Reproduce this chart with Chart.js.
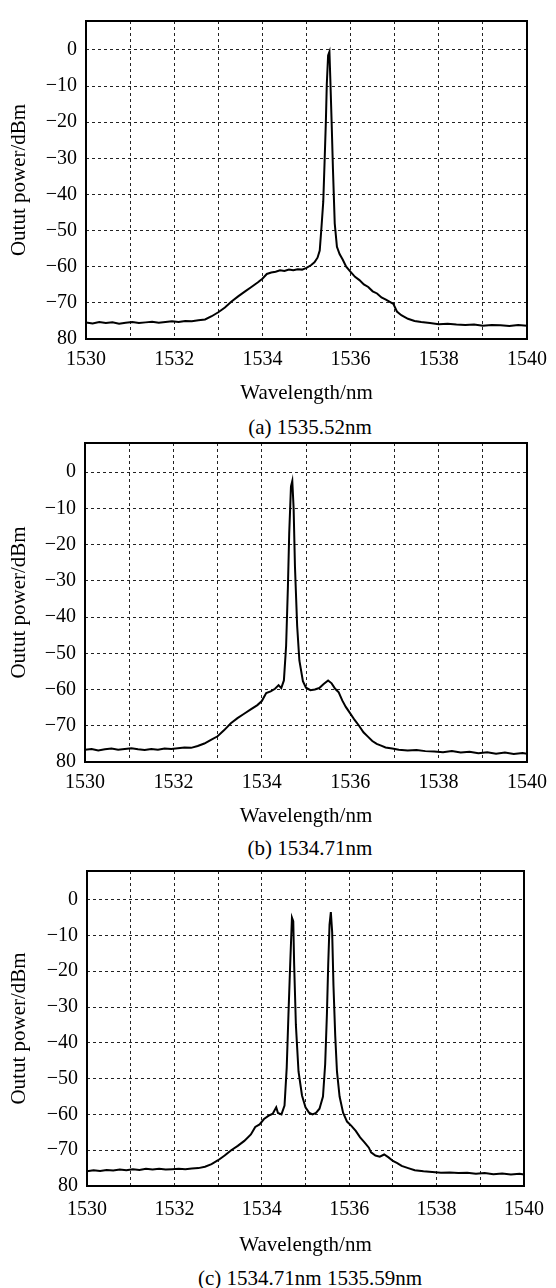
<!DOCTYPE html>
<html>
<head>
<meta charset="utf-8">
<script src="https://cdn.jsdelivr.net/npm/chart.js@4.4.1/dist/chart.umd.min.js"></script>
<style>
body { margin: 0; background: #fff; width: 556px; height: 1288px; position: relative; overflow: hidden;
       font-family: "Liberation Serif", "Times New Roman", serif; }
.box { position: absolute; left: 0; width: 556px; }
.cap { position: absolute; left: 0; width: 620px; text-align: center; font-size: 21px; line-height: 24px; color: #000; }
</style>
</head>
<body>
<div class="box" style="top:0;height:406px"><canvas id="chartA"></canvas></div>
<div class="cap" style="top:415px">(a) 1535.52nm</div>
<div class="box" style="top:420px;height:409px"><canvas id="chartB"></canvas></div>
<div class="cap" style="top:836px">(b) 1534.71nm</div>
<div class="box" style="top:850px;height:408px"><canvas id="chartC"></canvas></div>
<div class="cap" style="top:1266px">(c) 1534.71nm 1535.59nm</div>

<script>
// axis ticks
const xTickValues = [1530, 1531, 1532, 1533, 1534, 1535, 1536, 1537, 1538, 1539, 1540];
const xTickLabels = ['1530', '', '1532', '', '1534', '', '1536', '', '1538', '', '1540'];
const yTickValues = [-80, -70, -60, -50, -40, -30, -20, -10, 0];
const yTickLabels = ['80', '\u221270', '\u221260', '\u221250', '\u221240', '\u221230', '\u221220', '\u221210', '0'];

// (a) single line at 1535.52nm
const wlA = [1530.00, 1530.15, 1530.30, 1530.45, 1530.60, 1530.75, 1530.90, 1531.05, 1531.20, 1531.35,
    1531.50, 1531.65, 1531.80, 1531.95, 1532.10, 1532.25, 1532.40, 1532.55, 1532.70, 1532.85,
    1533.00, 1533.15, 1533.30, 1533.45, 1533.60, 1533.75, 1533.90, 1534.00, 1534.10, 1534.20,
    1534.30, 1534.40, 1534.50, 1534.60, 1534.70, 1534.80, 1534.90, 1535.00, 1535.10, 1535.18,
    1535.25, 1535.30, 1535.34, 1535.38, 1535.41, 1535.44, 1535.46, 1535.49, 1535.52, 1535.54,
    1535.57, 1535.60, 1535.64, 1535.69, 1535.75, 1535.82, 1535.90, 1536.00, 1536.10, 1536.20,
    1536.30, 1536.40, 1536.50, 1536.60, 1536.70, 1536.80, 1536.90, 1536.97, 1537.05, 1537.15,
    1537.30, 1537.45, 1537.60, 1537.80, 1538.00, 1538.20, 1538.40, 1538.60, 1538.80, 1539.00,
    1539.20, 1539.40, 1539.60, 1539.80, 1540.00];
const powerA = [-75.4, -75.7, -75.3, -75.6, -75.4, -75.8, -75.5, -75.3, -75.6, -75.4,
    -75.2, -75.5, -75.3, -75.1, -75.3, -75.0, -75.1, -74.8, -74.6, -73.7,
    -72.6, -71.3, -69.6, -68.2, -66.9, -65.6, -64.3, -63.3, -62.0, -61.6,
    -61.4, -61.0, -61.2, -60.8, -61.0, -60.7, -60.8, -60.3, -59.6, -58.8,
    -57.5, -55.5, -49.0, -42.0, -31.0, -19.5, -9.5, -1.5, -0.5, -8.0,
    -20.0, -33.0, -48.0, -54.5, -56.5, -58.0, -60.0, -61.4, -62.8, -63.7,
    -64.9, -65.6, -66.8, -67.4, -68.5, -69.1, -69.8, -70.3, -72.4, -73.4,
    -74.4, -75.0, -75.3, -75.6, -75.9, -75.8, -76.0, -76.1, -76.0, -76.3,
    -76.1, -76.2, -76.4, -76.1, -76.3];

// (b) single line at 1534.71nm
const wlB = [1530.00, 1530.15, 1530.30, 1530.45, 1530.60, 1530.75, 1530.90, 1531.05, 1531.20, 1531.35,
    1531.50, 1531.65, 1531.80, 1531.95, 1532.10, 1532.25, 1532.40, 1532.55, 1532.70, 1532.85,
    1533.00, 1533.15, 1533.30, 1533.45, 1533.60, 1533.75, 1533.90, 1534.00, 1534.10, 1534.20,
    1534.30, 1534.38, 1534.44, 1534.50, 1534.55, 1534.59, 1534.62, 1534.66, 1534.69, 1534.72,
    1534.75, 1534.80, 1534.85, 1534.93, 1535.00, 1535.10, 1535.20, 1535.30, 1535.40, 1535.50,
    1535.58, 1535.66, 1535.74, 1535.82, 1535.90, 1536.00, 1536.10, 1536.20, 1536.30, 1536.40,
    1536.50, 1536.60, 1536.70, 1536.80, 1536.95, 1537.10, 1537.30, 1537.50, 1537.70, 1537.90,
    1538.10, 1538.30, 1538.50, 1538.70, 1538.90, 1539.10, 1539.30, 1539.50, 1539.70, 1539.90,
    1540.00];
const powerB = [-76.6, -76.4, -76.8, -76.5, -76.3, -76.6, -76.4, -76.2, -76.5, -76.7,
    -76.4, -76.6, -76.3, -76.4, -76.2, -76.0, -76.1, -75.6, -74.9, -73.9,
    -72.9, -71.2, -69.3, -67.9, -66.7, -65.5, -64.3, -63.2, -61.0, -60.5,
    -59.8, -58.8, -59.6, -57.5, -48.0, -32.0, -17.0, -4.0, -2.5, -10.0,
    -26.0, -42.5, -52.0, -57.7, -59.5, -60.2, -60.0, -59.6, -58.5, -57.5,
    -58.3, -59.8, -60.8, -63.0, -64.8, -66.6, -68.4, -70.0, -71.8, -73.0,
    -74.2, -75.0, -75.5, -76.0, -76.3, -76.6, -76.8, -76.7, -77.0, -77.1,
    -77.3, -77.0, -77.4, -77.2, -77.6, -77.3, -77.7, -77.4, -77.8, -77.5,
    -77.7];

// (c) dual line at 1534.71nm and 1535.59nm
const wlC = [1530.00, 1530.15, 1530.30, 1530.45, 1530.60, 1530.75, 1530.90, 1531.05, 1531.20, 1531.35,
    1531.50, 1531.65, 1531.80, 1531.95, 1532.10, 1532.25, 1532.40, 1532.55, 1532.70, 1532.85,
    1533.00, 1533.15, 1533.30, 1533.45, 1533.60, 1533.75, 1533.85, 1533.95, 1534.05, 1534.15,
    1534.25, 1534.33, 1534.37, 1534.45, 1534.52, 1534.57, 1534.61, 1534.65, 1534.69, 1534.72,
    1534.74, 1534.78, 1534.84, 1534.92, 1535.00, 1535.08, 1535.16, 1535.24, 1535.32, 1535.40,
    1535.45, 1535.49, 1535.52, 1535.55, 1535.58, 1535.61, 1535.64, 1535.68, 1535.72, 1535.78,
    1535.86, 1535.95, 1536.05, 1536.15, 1536.25, 1536.35, 1536.45, 1536.50, 1536.60, 1536.70,
    1536.80, 1536.90, 1537.00, 1537.10, 1537.20, 1537.35, 1537.50, 1537.70, 1537.90, 1538.10,
    1538.30, 1538.50, 1538.70, 1538.90, 1539.10, 1539.30, 1539.50, 1539.70, 1539.90, 1540.00];
const powerC = [-75.9, -75.6, -75.8, -75.5, -75.7, -75.4, -75.6, -75.3, -75.5, -75.2,
    -75.4, -75.2, -75.4, -75.3, -75.2, -75.3, -75.1, -75.0, -74.6, -73.9,
    -72.8, -71.5, -70.0, -68.8, -67.4, -65.6, -63.5, -62.8, -61.3, -60.4,
    -59.8, -58.0, -59.6, -60.0, -57.5, -47.0, -32.0, -18.0, -5.0, -6.0,
    -18.0, -35.0, -48.0, -54.7, -58.0, -59.5, -60.0, -59.6, -58.4, -55.0,
    -46.0, -32.0, -18.0, -7.0, -3.5, -9.0, -24.0, -38.0, -48.0, -55.0,
    -59.5, -62.0, -63.2, -64.6, -66.4, -67.8, -69.3, -70.6, -71.5, -71.8,
    -71.2, -72.0, -73.0, -73.6, -74.4, -75.0, -75.6, -75.9, -76.1, -76.3,
    -76.2, -76.4, -76.3, -76.6, -76.4, -76.7, -76.5, -76.8, -76.6, -76.8];

const FONT = '"Liberation Serif", "Times New Roman", serif';

// solid frame round the plot area
const framePlugin = {
    id: 'frame',
    afterDatasetsDraw: function(chart) {
        const a = chart.chartArea;
        const ctx = chart.ctx;
        ctx.save();
        ctx.strokeStyle = '#000';
        ctx.lineWidth = 2;
        ctx.strokeRect(a.left, a.top, a.right - a.left, a.bottom - a.top);
        ctx.restore();
    }
};

function spectrumChart(id, wl, power, lay) {
    const points = wl.map(function(x, i) { return { x: x, y: power[i] }; });
    const gridOpts = { color: '#222', lineWidth: 1, drawTicks: false };
    return new Chart(document.getElementById(id), {
        type: 'line',
        data: {
            datasets: [{
                data: points,
                borderColor: '#000',
                borderWidth: 2,
                pointRadius: 0,
                tension: 0,
                fill: false
            }]
        },
        options: {
            responsive: true,
            maintainAspectRatio: false,
            animation: false,
            layout: { padding: { top: lay.top, right: lay.right, left: 0, bottom: 0 } },
            plugins: { legend: { display: false }, tooltip: { enabled: false } },
            scales: {
                x: {
                    type: 'linear',
                    min: 1530,
                    max: 1540,
                    afterBuildTicks: function(s) { s.ticks = xTickValues.map(function(v) { return { value: v }; }); },
                    afterFit: function(s) { s.height = lay.xHeight; },
                    grid: gridOpts,
                    border: { display: false, dash: [3, 3] },
                    ticks: {
                        font: { family: FONT, size: 20 },
                        color: '#000',
                        padding: lay.xPad,
                        maxRotation: 0,
                        autoSkip: false,
                        callback: function(v, i) { return xTickLabels[i]; }
                    },
                    title: {
                        display: true,
                        text: 'Wavelength/nm',
                        color: '#000',
                        font: { family: FONT, size: 21 },
                        padding: { top: 0, bottom: 0 }
                    }
                },
                y: {
                    type: 'linear',
                    min: -80,
                    max: 8,
                    afterBuildTicks: function(s) { s.ticks = yTickValues.map(function(v) { return { value: v }; }); },
                    afterFit: function(s) { s.width = lay.yWidth; },
                    grid: gridOpts,
                    border: { display: false, dash: [3, 3] },
                    ticks: {
                        font: { family: FONT, size: 20 },
                        color: '#000',
                        padding: 9,
                        autoSkip: false,
                        callback: function(v, i) { return yTickLabels[i]; }
                    },
                    title: {
                        display: true,
                        text: 'Outut power/dBm',
                        color: '#000',
                        font: { family: FONT, size: 21 },
                        padding: { top: 7, bottom: 0 }
                    }
                }
            }
        },
        plugins: [framePlugin]
    });
}

spectrumChart('chartA', wlA, powerA, { top: 16, right: 21, yWidth: 86, xHeight: 67, xPad: 9 });
spectrumChart('chartB', wlB, powerB, { top: 23, right: 21, yWidth: 85, xHeight: 67, xPad: 9 });
spectrumChart('chartC', wlC, powerC, { top: 16, right: 23, yWidth: 87, xHeight: 72, xPad: 12 });
</script>
</body>
</html>
